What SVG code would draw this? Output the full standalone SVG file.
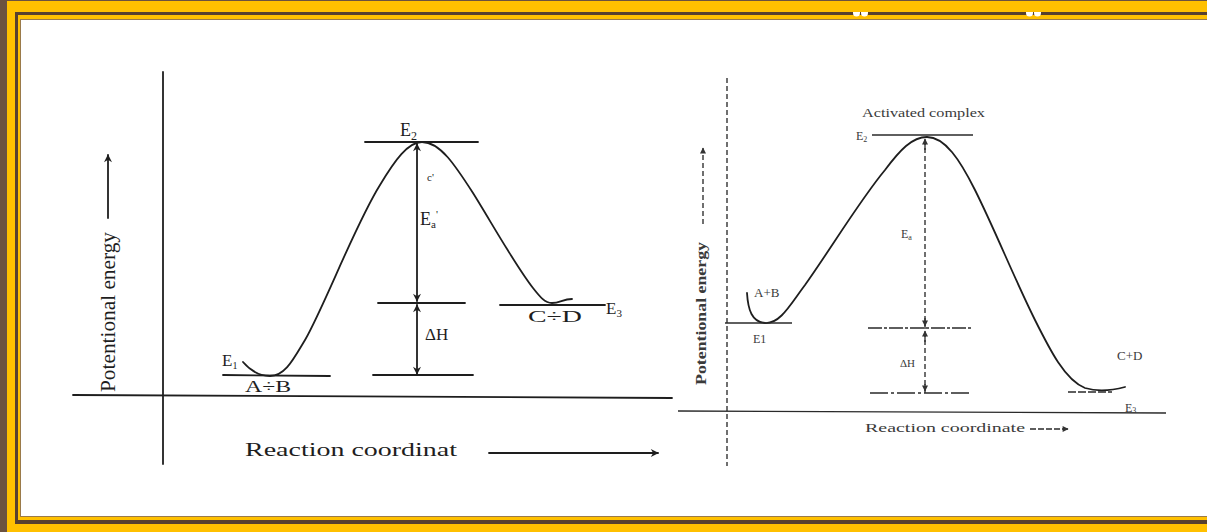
<svg xmlns="http://www.w3.org/2000/svg" width="1207" height="532" viewBox="0 0 1207 532">
<style>
.ln{stroke:#1e1e1e;stroke-width:1.8;fill:none;stroke-linecap:round}
.lt{stroke:#2a2a2a;stroke-width:1.3;fill:none}
.dot{stroke:#333;stroke-width:1.4;fill:none;stroke-dasharray:5 3}
.sf{font-family:"Liberation Serif","Times New Roman",serif;fill:#1e1e1e}
.rs{font-family:"Liberation Serif","Times New Roman",serif;fill:#3a3a3a}
</style>
<defs>
<marker id="ah" viewBox="0 0 10 10" refX="9" refY="5" markerWidth="9" markerHeight="8" orient="auto-start-reverse" markerUnits="userSpaceOnUse">
<path d="M0,0 L10,5 L0,10 L3,5 Z" fill="#1e1e1e"/>
</marker>
<marker id="ahs" viewBox="0 0 10 10" refX="9" refY="5" markerWidth="7" markerHeight="6" orient="auto-start-reverse" markerUnits="userSpaceOnUse">
<path d="M0,0 L10,5 L0,10 Z" fill="#333"/>
</marker>
</defs>
<g id="frame">
<rect x="0" y="0" width="1207" height="532" fill="#6b5240"/>
<rect x="7" y="1" width="1200" height="531" fill="#ffc000"/>
<rect x="15" y="12" width="1200" height="512" fill="#57402f"/>
<rect x="18" y="15" width="1200" height="505" fill="#ffc000"/>
<rect x="20.5" y="19.5" width="1200" height="497" fill="#ffffff" stroke="#9a7a4a" stroke-width="1"/>
<path d="M853,12 h7 v1 a3.5,3.5 0 0 1 -7,0 Z M861,12 h7 v1 a3.5,3.5 0 0 1 -7,0 Z M1026,12 h7 v1 a3.5,3.5 0 0 1 -7,0 Z M1034,12 h7 v1 a3.5,3.5 0 0 1 -7,0 Z" fill="#ffffff"/>
</g>
<g id="left-diagram">
<g id="left-axes">
<line class="ln" x1="163" y1="72" x2="163" y2="464"/>
<line class="ln" x1="73" y1="395" x2="672" y2="398"/>
<text class="sf" font-size="20" transform="translate(115,392) rotate(-90)" textLength="160" lengthAdjust="spacingAndGlyphs">Potentional energy</text>
<text class="sf" font-size="19" x="245" y="456" textLength="212" lengthAdjust="spacingAndGlyphs">Reaction coordinat</text>
</g>
<g id="left-curve">
<path class="ln" d="M243,362 Q255,376 270,376 C285,376 293,360 305,340 C325,305 355,225 380,185 C395,160 408,142 422,142 C440,142 455,165 473,193 C490,220 515,265 533,288 C540,297 545,303 552,303 C560,303 563,299 572,299"/>
</g>
<g id="left-levels">
<line class="ln" x1="223" y1="375" x2="330" y2="376"/>
<line class="ln" x1="365" y1="142" x2="478" y2="142"/>
<line class="ln" x1="378" y1="303" x2="465" y2="303"/>
<line class="ln" x1="373" y1="375" x2="473" y2="375"/>
<line class="ln" x1="500" y1="305" x2="605" y2="305"/>
</g>
<g id="left-labels">
<text class="sf" font-size="17" x="222" y="366">E<tspan font-size="10" dy="3">1</tspan></text>
<text class="sf" font-size="17" x="245" y="392" textLength="46" lengthAdjust="spacingAndGlyphs">A÷B</text>
<text class="sf" font-size="18" x="400" y="136">E<tspan font-size="12" dy="4">2</tspan></text>
<text class="sf" font-size="11" x="427" y="181" fill="#555">c'</text>
<text class="sf" font-size="18" x="420" y="225">E<tspan font-size="11" dy="3">a</tspan><tspan font-size="11" dy="-10">'</tspan></text>
<text class="sf" font-size="17" x="425" y="340">ΔH</text>
<text class="sf" font-size="17" x="528" y="322" textLength="54" lengthAdjust="spacingAndGlyphs">C÷D</text>
<text class="sf" font-size="17" x="606" y="314">E<tspan font-size="11" dy="3">3</tspan></text>
</g>
</g>
<g id="right-diagram">
<g id="right-axes">
<line class="dot" x1="727" y1="78" x2="727" y2="466"/>
<line class="lt" x1="678" y1="411" x2="1166" y2="413" stroke-width="1.8"/>
<text class="rs" font-size="14" font-weight="bold" transform="translate(706,385) rotate(-90)" textLength="143" lengthAdjust="spacingAndGlyphs">Potentional energy</text>
<text class="rs" font-size="12" x="865" y="432" textLength="160" lengthAdjust="spacingAndGlyphs">Reaction coordinate</text>
</g>
<g id="right-curve">
<path class="ln" stroke-width="1.6" d="M747,293 C748,310 752,322 765,323 C780,324 790,305 805,285 C830,250 860,200 885,170 C900,150 912,137 927,137 C945,137 960,160 975,190 C995,230 1015,280 1035,320 C1050,350 1065,380 1085,388 C1095,391 1110,391 1125,387"/>
</g>
<g id="right-levels">
<line class="lt" x1="872" y1="135" x2="973" y2="135" stroke-width="1.6"/>
<line class="lt" x1="725" y1="323" x2="792" y2="323" stroke-width="1.6"/>
<line class="lt" x1="868" y1="328" x2="972" y2="328" stroke-dasharray="14 2 3 2"/>
<line class="lt" x1="870" y1="393" x2="972" y2="393" stroke-dasharray="18 3 3 3"/>
<line class="lt" x1="1068" y1="392" x2="1112" y2="392" stroke-dasharray="8 2"/>
</g>
<g id="right-labels">
<text class="rs" font-size="13" x="862" y="117" textLength="123" lengthAdjust="spacingAndGlyphs">Activated complex</text>
<text class="rs" font-size="12" x="856" y="140">E<tspan font-size="8" dy="2">2</tspan></text>
<text class="rs" font-size="13" x="754" y="297">A+B</text>
<text class="rs" font-size="12" x="753" y="343">E1</text>
<text class="rs" font-size="12" x="901" y="238">E<tspan font-size="8" dy="2">a</tspan></text>
<text class="rs" font-size="11" x="900" y="367">ΔH</text>
<text class="rs" font-size="13" x="1117" y="360">C+D</text>
<text class="rs" font-size="12" x="1125" y="412">E<tspan font-size="8" dy="1">3</tspan></text>
</g>
</g>
<g id="connectors">
<line class="ln" x1="108" y1="218" x2="108" y2="155" marker-end="url(#ah)"/>
<line class="ln" x1="489" y1="453" x2="658" y2="453" marker-end="url(#ah)"/>
<line class="ln" x1="417" y1="144" x2="417" y2="301" marker-start="url(#ah)" marker-end="url(#ah)"/>
<line class="ln" x1="417" y1="305" x2="417" y2="374" marker-start="url(#ah)" marker-end="url(#ah)"/>
<line class="dot" x1="703" y1="224" x2="703" y2="148" marker-end="url(#ahs)"/>
<line class="lt" x1="1030" y1="429" x2="1068" y2="429" stroke-dasharray="6 2" marker-end="url(#ahs)"/>
<line class="dot" x1="925" y1="140" x2="925" y2="393" stroke-width="1.2" stroke-dasharray="3 4"/>
<line class="lt" x1="925" y1="150" x2="925" y2="139" marker-end="url(#ahs)"/>
<line class="lt" x1="925" y1="318" x2="925" y2="326" marker-end="url(#ahs)"/>
<line class="lt" x1="925" y1="342" x2="925" y2="331" marker-end="url(#ahs)"/>
<line class="lt" x1="925" y1="384" x2="925" y2="391" marker-end="url(#ahs)"/>
</g>
</svg>
